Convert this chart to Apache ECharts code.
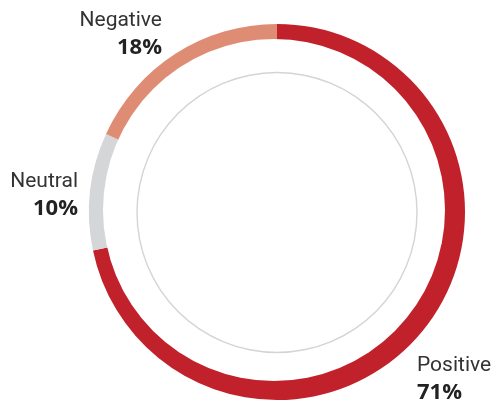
<!DOCTYPE html>
<html>
<head>
<meta charset="utf-8">
<script src="https://cdn.jsdelivr.net/npm/echarts@6/dist/echarts.min.js"></script>
<style>
html,body{margin:0;padding:0;background:#fff;}
#chart{width:494px;height:403px;}
</style>
</head>
<body>
<div id="chart"></div>
<script>
const categories = ['Positive', 'Neutral', 'Negative'];
const values = [71, 10, 18];
const percentLabels = ['71%', '10%', '18%'];
const colors = ['#c1212a', '#d5d6d8', '#de8d74'];

const labelPlacement = {
  Positive: { x: 417, y: 352, align: 'left' },
  Neutral: { x: 78, y: 168, align: 'right' },
  Negative: { x: 162, y: 7, align: 'right' }
};

const chart = echarts.init(document.getElementById('chart'), null, { renderer: 'canvas' });

const option = {
  backgroundColor: '#fff',
  animation: false,
  series: [
    {
      type: 'pie',
      center: [277, 212],
      radius: [0, 188],
      startAngle: 90,
      clockwise: true,
      silent: true,
      avoidLabelOverlap: false,
      data: categories.map((c, i) => ({
        name: c,
        value: values[i],
        itemStyle: { color: colors[i] }
      })),
      label: {
        show: true,
        position: 'outside',
        overflow: 'none',
        edgeDistance: 0,
        bleedMargin: 0,
        formatter: (p) => '{n|' + p.name + '}\n{v|' + percentLabels[p.dataIndex] + '}',
        rich: {
          n: { fontFamily: 'Roboto', fontSize: 21, fontWeight: 'normal', color: '#333', lineHeight: 27 },
          v: { fontFamily: 'Open Sans', fontSize: 22, fontWeight: 'bold', color: '#222', lineHeight: 27 }
        }
      },
      labelLine: { show: false },
      labelLayout: (params) => {
        const name = categories[params.dataIndex];
        const p = labelPlacement[name];
        return { x: p.x, y: p.y, align: p.align, verticalAlign: 'top' };
      }
    },
    {
      type: 'pie',
      center: [274, 210],
      radius: [0, 171],
      silent: true,
      label: { show: false },
      labelLine: { show: false },
      data: [{ value: 1, itemStyle: { color: '#ffffff' } }]
    },
    {
      type: 'pie',
      center: [277, 212.5],
      radius: [139.3, 140.7],
      silent: true,
      label: { show: false },
      labelLine: { show: false },
      data: [{ value: 1, itemStyle: { color: '#d4d4d4' } }]
    }
  ]
};
chart.setOption(option);
</script>
</body>
</html>
